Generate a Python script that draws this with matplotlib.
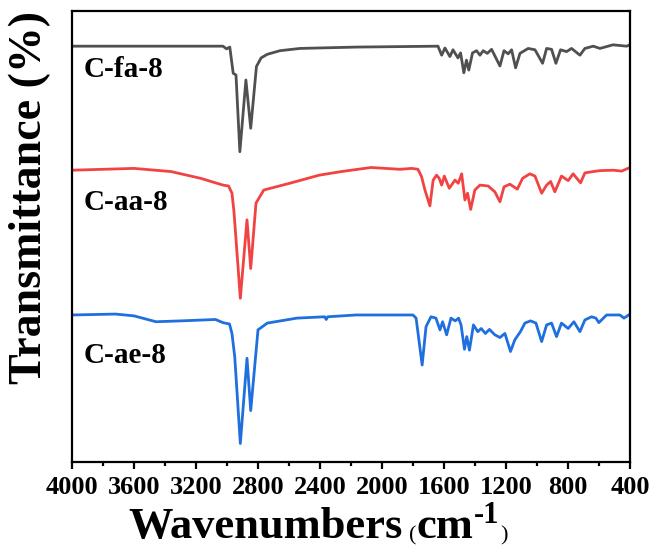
import numpy as np
from matplotlib import pyplot as plt

plt.rcParams['font.family'] = ['Liberation Serif', 'DejaVu Serif']
plt.rcParams['font.weight'] = 'bold'

# transmittance (arbitrary offset units, 0-100 axis)
wn_fa = [4000, 3600, 3271, 3026, 3003, 2982, 2960, 2942, 2917, 2878, 2847, 2810, 2780, 2740,
         2658, 2529, 2168, 1900, 1639, 1615, 1594, 1562, 1542, 1510, 1493, 1472, 1455, 1440,
         1416, 1390, 1368, 1347, 1321, 1293, 1239, 1213, 1186, 1164, 1138, 1110, 1057, 1013,
         964, 938, 906, 878, 848, 809, 777, 723, 691, 637, 594, 510, 422, 400]
t_fa = [92.2, 92.2, 92.2, 92.2, 91.6, 92.0, 86.2, 85.8, 68.8, 84.7, 74.0, 87.7, 89.6, 90.4,
        91.2, 91.7, 92.0, 92.1, 92.2, 90.2, 91.8, 89.9, 91.4, 89.6, 90.7, 86.3, 89.1, 86.9,
        90.7, 91.2, 90.2, 91.2, 90.6, 91.5, 87.8, 91.2, 90.5, 91.4, 87.4, 90.6, 91.7, 91.4,
        88.4, 91.7, 91.5, 88.4, 91.4, 91.0, 91.7, 90.2, 91.7, 92.2, 91.7, 92.5, 92.2, 92.5]

wn_aa = [4000, 3600, 3361, 3170, 3026, 2990, 2968, 2955, 2914, 2871, 2847, 2813, 2763, 2596,
         2405, 2262, 2071, 1884, 1807, 1768, 1745, 1723, 1691, 1670, 1648, 1631, 1615, 1598,
         1566, 1529, 1508, 1486, 1465, 1448, 1428, 1401, 1368, 1315, 1272, 1239, 1213, 1175,
         1127, 1093, 1046, 1013, 970, 938, 912, 885, 842, 799, 767, 719, 691, 637, 594, 508,
         454, 400]
t_aa = [64.7, 65.1, 64.4, 62.9, 61.4, 61.2, 59.6, 55.5, 36.3, 53.7, 42.9, 57.4, 60.3, 61.8,
        63.6, 64.4, 65.3, 64.9, 65.1, 64.9, 63.3, 60.3, 56.8, 62.5, 63.6, 62.9, 61.4, 63.4,
        60.7, 62.5, 61.8, 63.9, 58.1, 59.6, 56.0, 60.3, 61.4, 61.2, 59.9, 57.7, 61.0, 61.6,
        60.5, 62.9, 63.9, 63.4, 59.6, 61.4, 62.2, 59.9, 63.4, 62.4, 63.9, 61.9, 64.1, 64.4,
        64.6, 64.7, 64.5, 65.3]

wn_ae = [4000, 3719, 3600, 3458, 3290, 3074, 3026, 2984, 2968, 2950, 2914, 2871, 2847, 2800,
         2740, 2549, 2370, 2360, 2350, 2168, 1884, 1800, 1780, 1741, 1716, 1684, 1652, 1626,
         1609, 1583, 1555, 1527, 1506, 1490, 1468, 1453, 1436, 1410, 1382, 1360, 1333, 1307,
         1272, 1239, 1207, 1171, 1143, 1107, 1078, 1042, 1007, 970, 938, 906, 874, 842, 799,
         762, 723, 691, 648, 620, 601, 551, 465, 439, 400]
t_ae = [32.6, 32.8, 32.4, 31.1, 31.3, 31.6, 30.9, 30.6, 28.5, 23.3, 4.1, 23.0, 11.4, 29.3,
        30.8, 31.9, 32.2, 31.6, 32.2, 32.6, 32.6, 32.6, 31.9, 21.5, 30.0, 32.2, 31.9, 29.3,
        31.1, 28.2, 31.9, 31.3, 31.9, 30.4, 25.0, 27.8, 24.8, 30.4, 28.9, 29.6, 28.5, 29.4,
        28.2, 27.6, 28.5, 24.5, 27.1, 28.9, 30.8, 31.3, 30.8, 26.7, 30.4, 30.8, 27.8, 30.8,
        29.6, 31.1, 28.9, 31.5, 32.2, 31.9, 30.9, 32.6, 32.6, 31.9, 32.8]

names = ['C-fa-8', 'C-aa-8', 'C-ae-8']
colors = ['#505050', '#f24343', '#1f6fdf']
label_y = [87.0, 57.6, 23.6]

W, H = 652, 550
fig = plt.figure(figsize=(W / 100, H / 100), dpi=100)
ax = fig.add_axes([72 / W, 88 / H, 558 / W, 451 / H])

for wn, t, c in zip([wn_fa, wn_aa, wn_ae], [t_fa, t_aa, t_ae], colors):
    ax.plot(wn, t, color=c, lw=2.0, solid_joinstyle='round')

for name, y in zip(names, label_y):
    ax.text(3925, y, name, fontsize=21, fontweight='bold', va='center', ha='left')

ax.set_xlim(4000, 400)
ax.set_ylim(0, 100)
ax.set_xticks(np.arange(4000, 399, -400))
ax.set_xticks(np.arange(3800, 400, -400), minor=True)
ax.set_yticks([])
ax.tick_params(axis='x', which='major', direction='out', length=5, width=1.6,
               labelsize=19, pad=5)
ax.tick_params(axis='x', which='minor', direction='out', length=3, width=1.6)
for sp in ax.spines.values():
    sp.set_linewidth(1.6)

fig.text(30 / W, 1 - 197 / H, 'Transmittance (%)', rotation=90, fontsize=33,
         fontweight='bold', ha='center', va='center')

# x label built piece by piece: big bold word, small plain parens, raised exponent
renderer = fig.canvas.get_renderer()
pieces = [('Wavenumbers', 32, 'bold', 0, 6),
          ('(', 16, 'normal', -2, 1),
          ('cm', 32, 'bold', 0, 0),
          ('-1', 22, 'bold', 15, 1),
          (')', 16, 'normal', -2, 0)]
base_y = 538
x = 0.0
texts = []
for s, size, weight, dy, gap in pieces:
    t = fig.text(0, 1 - (base_y - dy) / H, s, fontsize=size, fontweight=weight,
                 ha='left', va='baseline')
    w = t.get_window_extent(renderer).width
    texts.append((t, x))
    x += w + gap
start = 318 - x / 2
for t, off in texts:
    t.set_x((start + off) / W)

fig.savefig('out.png', dpi=100)
